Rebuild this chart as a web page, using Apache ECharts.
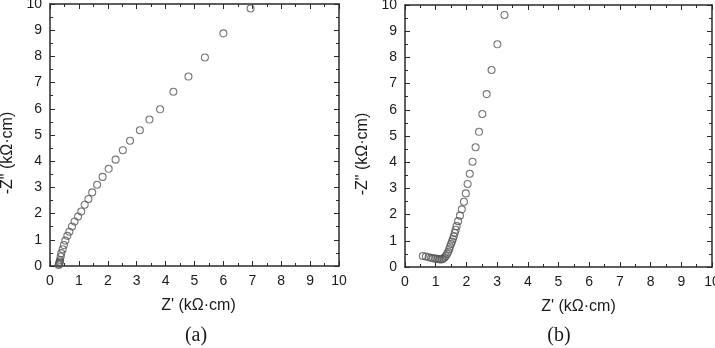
<!DOCTYPE html>
<html>
<head>
<meta charset="utf-8">
<script src="https://cdn.jsdelivr.net/npm/echarts@6/dist/echarts.min.js"></script>
<style>
  html, body { margin: 0; padding: 0; background: #fff; }
  #main { width: 715px; height: 348px; }
</style>
</head>
<body>
<div id="main"></div>
<script>
// panel (a)
var zReA = [0.30,0.31,0.33,0.34,0.35,0.37,0.39,0.44,0.48,0.53,0.60,0.67,0.76,0.85,0.97,1.08,1.20,1.33,1.46,1.63,1.82,2.03,2.27,2.52,2.77,3.11,3.44,3.81,4.27,4.79,5.36,6.00,6.94];
var zImA = [0.04,0.08,0.12,0.17,0.23,0.36,0.49,0.64,0.80,0.97,1.15,1.31,1.51,1.70,1.89,2.08,2.34,2.56,2.81,3.10,3.40,3.71,4.06,4.42,4.78,5.18,5.59,5.98,6.65,7.23,7.96,8.88,9.83];
// panel (b)
var zReB = [0.58,0.68,0.77,0.85,0.92,0.99,1.05,1.11,1.16,1.21,1.25,1.29,1.33,1.37,1.41,1.44,1.47,1.50,1.53,1.56,1.59,1.62,1.65,1.68,1.73,1.79,1.85,1.92,1.98,2.04,2.11,2.20,2.30,2.41,2.52,2.66,2.82,3.01,3.24];
var zImB = [0.42,0.40,0.37,0.35,0.33,0.32,0.31,0.30,0.29,0.30,0.32,0.36,0.42,0.50,0.58,0.68,0.78,0.88,0.97,1.07,1.17,1.30,1.42,1.56,1.75,1.96,2.20,2.49,2.81,3.17,3.56,4.02,4.57,5.16,5.84,6.60,7.52,8.50,9.62];

var xName = "Z' (kΩ·cm)";
var yName = '-Z" (kΩ·cm)';
var captions = ['(a)', '(b)'];

function pairs(xs, ys) {
    var out = [];
    for (var i = 0; i < xs.length; i++) out.push([xs[i], ys[i]]);
    return out;
}

var frame = { show: true, onZero: false, lineStyle: { color: '#2a2a2a', width: 1.5 } };
var tick = { show: true, inside: true, length: 5, lineStyle: { color: '#2a2a2a' } };
var minor = { show: true, splitNumber: 2, length: 3, lineStyle: { color: '#2a2a2a' } };
var lbl = { color: '#1a1a1a', fontSize: 14, fontFamily: 'Liberation Sans, Arial' };

function valAxis(grid, pos, main, nameOpt) {
    var a = {
        type: 'value', gridIndex: grid, position: pos,
        min: 0, max: 10, interval: 1,
        axisLine: frame, axisTick: tick, minorTick: minor,
        splitLine: { show: false },
        axisLabel: main ? Object.assign({ margin: 8 }, lbl) : { show: false }
    };
    if (nameOpt) Object.assign(a, nameOpt);
    return a;
}

function xNameOpt(pad) {
    return {
        name: xName, nameLocation: 'middle', nameGap: 32,
        nameTextStyle: { fontSize: 16, color: '#1a1a1a', fontFamily: 'Liberation Sans, Arial', padding: [0, 0, 0, pad] }
    };
}
function yNameOpt() {
    return {
        name: yName, nameLocation: 'middle', nameGap: 34,
        nameTextStyle: { fontSize: 16, color: '#1a1a1a', fontFamily: 'Liberation Sans, Arial', padding: [0, 36, 0, 0] }
    };
}

var sym = {
    type: 'scatter', symbol: 'circle', symbolSize: 7,
    itemStyle: { color: 'rgba(0,0,0,0)', borderColor: '#555', borderWidth: 1.1 }
};

var myChart = echarts.init(document.getElementById('main'));
var option = {
    animation: false,
    backgroundColor: '#fff',
    grid: [
        { left: 50, top: 4, width: 289, height: 262, outerBoundsMode: 'none', containLabel: false },
        { left: 405, top: 5, width: 307, height: 262, outerBoundsMode: 'none', containLabel: false }
    ],
    xAxis: [
        valAxis(0, 'bottom', true, xNameOpt(8)),
        valAxis(0, 'top', false),
        valAxis(1, 'bottom', true, xNameOpt(40)),
        valAxis(1, 'top', false)
    ],
    yAxis: [
        valAxis(0, 'left', true, yNameOpt()),
        valAxis(0, 'right', false),
        valAxis(1, 'left', true, yNameOpt()),
        valAxis(1, 'right', false)
    ],
    graphic: [
        { type: 'text', x: 196, y: 336, style: { text: captions[0], font: '20px "Liberation Serif", serif', fill: '#1a1a1a', textAlign: 'center', textVerticalAlign: 'middle' } },
        { type: 'text', x: 559, y: 336, style: { text: captions[1], font: '20px "Liberation Serif", serif', fill: '#1a1a1a', textAlign: 'center', textVerticalAlign: 'middle' } }
    ],
    series: [
        Object.assign({ xAxisIndex: 0, yAxisIndex: 0, data: pairs(zReA, zImA) }, sym),
        Object.assign({ xAxisIndex: 2, yAxisIndex: 2, data: pairs(zReB, zImB) }, sym)
    ]
};
myChart.setOption(option);
window.onresize = myChart.resize;
</script>
</body>
</html>
